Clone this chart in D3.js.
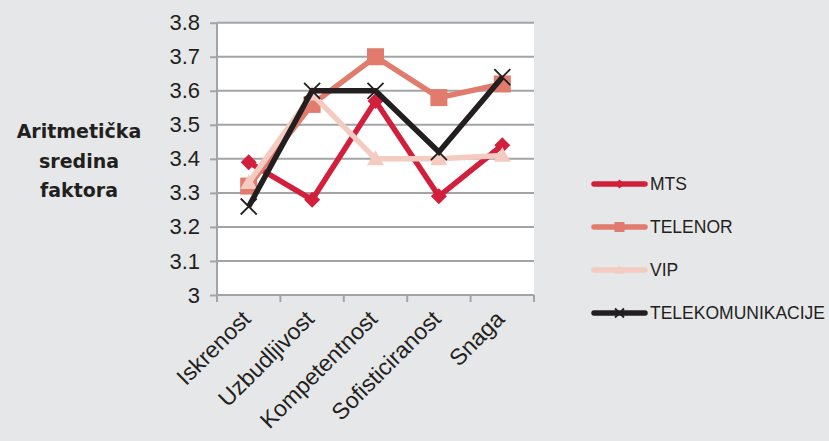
<!DOCTYPE html>
<html><head><meta charset="utf-8">
<script src="https://cdn.jsdelivr.net/npm/d3@7"></script>
<style>body{margin:0;background:#e6e7e8;}svg{display:block;}</style>
</head><body>
<svg id="c" width="829" height="441"></svg>
<script>
const categories = ["Iskrenost","Uzbudljivost","Kompetentnost","Sofisticiranost","Snaga"];
const seriesNames = ["MTS","TELENOR","VIP","TELEKOMUNIKACIJE"];
const mts = [3.39, 3.28, 3.57, 3.29, 3.44];
const telenor = [3.32, 3.56, 3.70, 3.58, 3.62];
const vip = [3.33, 3.59, 3.40, 3.40, 3.41];
const telekom = [3.26, 3.60, 3.60, 3.42, 3.64];
const yTicks = [3, 3.1, 3.2, 3.3, 3.4, 3.5, 3.6, 3.7, 3.8];
const yLabel = ["Aritmetička", "sredina", "faktora"];

const colors = ["#d21f3c", "#e07b6d", "#f4cbc1", "#231f20"];
const markers = ["diamond", "square", "triangle", "x"];
const seriesData = [mts, telenor, vip, telekom];

const svg = d3.select("#c");
const L = 217, R = 534, T = 22.7, B = 295;
const x = d3.scaleBand().domain(categories).range([L, R]);
const y = d3.scaleLinear().domain([3, 3.8]).range([B, T]);

svg.append("rect").attr("x", L).attr("y", T).attr("width", R - L).attr("height", B - T).attr("fill", "#fff");

// gridlines
svg.append("g").selectAll("line").data(yTicks.slice(1)).join("line")
  .attr("x1", L).attr("x2", R).attr("y1", d => y(d)).attr("y2", d => y(d))
  .attr("stroke", "#a3a4a6").attr("stroke-width", 2);

// y axis
const ya = svg.append("g").attr("transform", `translate(${L},0)`)
  .call(d3.axisLeft(y).tickValues(yTicks).tickFormat(d => d === 3 ? "3" : d3.format(".1f")(d)).tickSize(7).tickPadding(10));
ya.select(".domain").attr("stroke", "#a3a4a6").attr("stroke-width", 2).attr("d", `M0,${T}V${B}`);
ya.selectAll(".tick line").attr("stroke", "#a3a4a6").attr("stroke-width", 2);
ya.selectAll("text").attr("fill", "#231f20").style("font-family", "Liberation Sans, Arial, sans-serif").style("font-size", "22px");

// x axis
const xa = svg.append("g").attr("transform", `translate(0,${B})`);
xa.append("line").attr("x1", L).attr("x2", R).attr("stroke", "#a3a4a6").attr("stroke-width", 2);
const bounds = categories.map(c => x(c)).concat([R]);
xa.selectAll("line.t").data(bounds).join("line").attr("class", "t")
  .attr("x1", d => d).attr("x2", d => d).attr("y1", 0).attr("y2", 7)
  .attr("stroke", "#a3a4a6").attr("stroke-width", 2);
xa.selectAll("text").data(categories).join("text")
  .attr("transform", d => `translate(${x(d) + x.bandwidth() / 2 - 8},${14}) rotate(-45)`)
  .attr("text-anchor", "end").attr("dy", "0.7em")
  .attr("fill", "#231f20").style("font-family", "Liberation Sans, Arial, sans-serif").style("font-size", "23px")
  .text(d => d);

// y label
svg.append("text").attr("text-anchor", "middle")
  .style("font-family", "DejaVu Sans, sans-serif")
  .style("font-weight", "bold").style("font-size", "19px").attr("fill", "#231f20")
  .selectAll("tspan").data(yLabel).join("tspan")
  .attr("x", 79).attr("y", (d, i) => 138 + i * 29.5).text(d => d);

function marker(g, type, cx, cy, color, s) {
  if (type === "diamond") {
    g.append("path").attr("d", `M${cx},${cy - s}L${cx + s},${cy}L${cx},${cy + s}L${cx - s},${cy}Z`).attr("fill", color);
  } else if (type === "square") {
    g.append("rect").attr("x", cx - s).attr("y", cy - s).attr("width", 2 * s).attr("height", 2 * s).attr("fill", color);
  } else if (type === "triangle") {
    g.append("path").attr("d", `M${cx},${cy - s}L${cx + s},${cy + s * 0.75}L${cx - s},${cy + s * 0.75}Z`).attr("fill", color);
  } else {
    g.append("path").attr("d", `M${cx - s},${cy - s}L${cx + s},${cy + s}M${cx - s},${cy + s}L${cx + s},${cy - s}`)
      .attr("stroke", color).attr("stroke-width", 1.8);
  }
}
const sizes = [8, 8.5, 8.5, 8];

const line = d3.line().x((d, i) => x(categories[i]) + x.bandwidth() / 2).y(d => y(d));
seriesData.forEach((vals, si) => {
  const g = svg.append("g");
  g.append("path").attr("d", line(vals)).attr("fill", "none").attr("stroke", colors[si])
    .attr("stroke-width", 5.5).attr("stroke-linejoin", "miter");
  vals.forEach((v, i) => marker(g, markers[si], x(categories[i]) + x.bandwidth() / 2, y(v), colors[si], sizes[si]));
});

// legend
const lg = svg.append("g");
seriesNames.forEach((n, i) => {
  const ly = 184 + i * 43;
  lg.append("line").attr("x1", 594).attr("x2", 645).attr("y1", ly).attr("y2", ly)
    .attr("stroke", colors[i]).attr("stroke-width", 5.5).attr("stroke-linecap", "round");
  marker(lg, markers[i], 619.5, ly, colors[i], [4.5, 5, 5, 4.5][i]);
  lg.append("text").attr("x", 650).attr("y", ly).attr("dy", "0.36em")
    .style("font-family", "Liberation Sans, Arial, sans-serif").style("font-size", "17.5px")
    .attr("fill", "#231f20").text(n);
});
</script>
</body></html>
